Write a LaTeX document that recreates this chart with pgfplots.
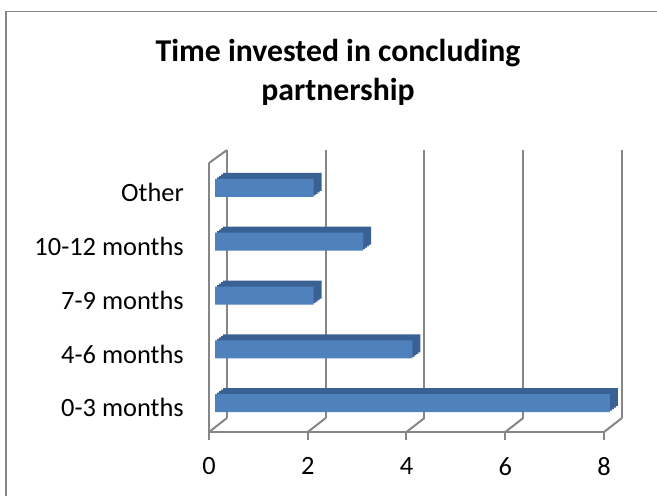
\documentclass[border=0pt]{standalone}
\usepackage{pgfplots}
\usepackage{pgfplotstable}
\pgfplotsset{compat=1.18}
\usepackage{fontspec}
\setmainfont{Carlito}
\definecolor{gridgray}{HTML}{868686}
\definecolor{barfront}{HTML}{4F81BD}
\definecolor{bardark}{HTML}{3A6194}
\pgfplotstableread{
i v
0 8
1 4
2 2
3 3
4 2
}\datatable
\begin{document}
\begin{tikzpicture}
\useasboundingbox (0,0) rectangle (492.75pt,-372pt);
\clip (0,0) rectangle (492.75pt,-372pt);
\fill[white] (0,0) rectangle (492.75pt,-372pt);
\draw[gridgray, line width=1.3pt] (4.3pt,-8.6pt) rectangle (530pt,-420pt);
% title
\node[anchor=base, font=\fontsize{23.8}{28}\selectfont\bfseries] at (253.5pt,-46.3pt) {Time invested in concluding};
\node[anchor=base, font=\fontsize{23.8}{28}\selectfont\bfseries] at (253.5pt,-75pt) {partnership};
% back wall with gridlines
\begin{axis}[
  at={(170.25pt,-313.5pt)}, anchor=south west,
  scale only axis, width=296.25pt, height=201pt,
  xmin=0, xmax=8, ymin=-0.5, ymax=4.5,
  xtick={0,2,4,6,8}, xticklabels={}, ytick=\empty,
  axis line style={draw=none}, tick style={draw=none},
  xmajorgrids, major grid style={gridgray, line width=1.5pt},
]
\addplot[draw=none] coordinates {(0,0)};
\end{axis}
% front
\begin{axis}[
  at={(156.75pt,-324pt)}, anchor=south west,
  scale only axis, width=296.25pt, height=201.75pt,
  xmin=0, xmax=8, ymin=-0.5, ymax=4.5,
  clip=false,
  axis x line*=bottom, axis y line*=left,
  axis line style={gridgray, line width=1.5pt, -},
  xtick={0,2,4,6,8},
  ytick={0,1,2,3,4},
  yticklabels={0-3 months,4-6 months,7-9 months,10-12 months,Other},
  minor ytick={-0.5,0.5,1.5,2.5,3.5,4.5},
  tick align=outside,
  major tick length=6pt, minor tick length=6pt,
  xtick style={gridgray, line width=1.5pt},
  ytick style={draw=none},
  minor y tick style={gridgray, line width=1.5pt},
  tick label style={font=\fontsize{19.8}{23}\selectfont},
  /pgf/number format/assume math mode=true,
  yticklabel style={anchor=east, inner sep=0pt, xshift=-12.75pt, yshift=-2pt},
  xticklabel style={anchor=north, inner sep=0pt, yshift=-12.75pt},
]
\pgfplotsinvokeforeach{0,2,4,6,8}{
  \draw[gridgray, line width=1.5pt] (axis cs:#1,-0.5) -- ++(13.5pt,10.5pt);
}
\draw[gridgray, line width=1.5pt] (axis cs:0,4.5) -- ++(13.5pt,9.75pt);
\addplot[xbar, bar shift=0pt, bar width=13.5pt, fill=bardark, draw=none, xshift=10.5pt, yshift=6pt] table[x=v, y=i] {\datatable};
\addplot[xbar, bar shift=0pt, bar width=13.5pt, fill=bardark, draw=none, xshift=9pt, yshift=4.875pt] table[x=v, y=i] {\datatable};
\addplot[xbar, bar shift=0pt, bar width=13.5pt, fill=bardark, draw=none, xshift=7.5pt, yshift=3.75pt] table[x=v, y=i] {\datatable};
\addplot[xbar, bar shift=0pt, bar width=13.5pt, fill=bardark, draw=none, xshift=6pt, yshift=2.625pt] table[x=v, y=i] {\datatable};
\addplot[xbar, bar shift=0pt, bar width=13.5pt, fill=barfront, draw=none, xshift=4.5pt, yshift=1.5pt] table[x=v, y=i] {\datatable};
\end{axis}
\end{tikzpicture}
\end{document}
